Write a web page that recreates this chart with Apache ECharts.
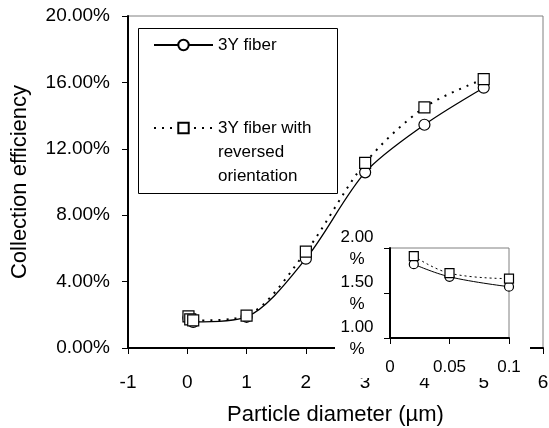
<!DOCTYPE html>
<html>
<head>
<meta charset="utf-8">
<script src="https://cdn.jsdelivr.net/npm/echarts@6/dist/echarts.min.js"></script>
<style>
  html, body { margin: 0; padding: 0; background: #fff; }
  #chart { width: 549px; height: 428px; }
</style>
</head>
<body>
<div id="chart"></div>
<script>
// Particle diameter (µm)
const diameters = [0.02, 0.05, 0.1, 1, 2, 3, 4, 5];
// Collection efficiency (%)
const fiber3Y = [1.82, 1.68, 1.57, 1.88, 5.38, 10.58, 13.45, 15.68];
const fiber3YReversed = [1.91, 1.72, 1.66, 1.95, 5.8, 11.15, 14.5, 16.2];
// The nanometre-range points shown enlarged in the inset
const insetCount = 3;

const nameFiber = '3Y fiber';
const nameReversed = '3Y fiber with\nreversed\norientation';

const FONT = 'Liberation Sans, Arial, sans-serif';

function pairs(xs, ys, n) {
  const out = [];
  const len = n == null ? xs.length : n;
  for (let i = 0; i < len; i++) out.push([xs[i], ys[i]]);
  return out;
}

const chart = echarts.init(document.getElementById('chart'), null, { renderer: 'canvas' });

const circleStyle = { color: '#fff', borderColor: '#000', borderWidth: 1.2 };
const squareStyle = { color: '#fff', borderColor: '#000', borderWidth: 1.2 };

const axisLineStyle = { show: true, onZero: false, lineStyle: { color: '#000', width: 2 } };
const axisTickStyle = { show: true, inside: false, length: 6, lineStyle: { color: '#000', width: 1 } };

chart.setOption({
  animation: false,
  backgroundColor: '#fff',
  textStyle: { fontFamily: FONT, color: '#000' },
  grid: [
    { left: 128, top: 16, right: 6, bottom: 80, outerBoundsMode: 'none', containLabel: false,
      show: true, borderColor: '#808080', borderWidth: 1, backgroundColor: 'transparent' },
    { left: 390, top: 248, width: 119, height: 90, outerBoundsMode: 'none', containLabel: false,
      show: true, borderColor: '#808080', borderWidth: 1, backgroundColor: '#fff', z: 8 }
  ],
  legend: [
    {
      data: [nameFiber],
      left: 153, top: 33, padding: 0,
      itemWidth: 59, itemHeight: 13,
      selectedMode: false,
      textStyle: { fontSize: 17, lineHeight: 24, color: '#000', fontFamily: FONT }
    },
    {
      data: [nameReversed],
      left: 153, top: 68, padding: 0,
      itemWidth: 59, itemHeight: 13,
      selectedMode: false,
      // two blank lines ahead of the name keep the key beside the first line of text
      formatter: name => '\n\n' + name,
      textStyle: { fontSize: 17, lineHeight: 24, color: '#000', fontFamily: FONT }
    }
  ],
  graphic: [
    // legend frame
    { type: 'rect', z: 4, shape: { x: 138.5, y: 28.5, width: 199, height: 165 },
      style: { fill: 'none', stroke: '#000', lineWidth: 1 } },
    // inset backdrop
    { type: 'rect', z: 5, shape: { x: 335, y: 225, width: 195, height: 153 },
      style: { fill: '#fff', stroke: 'none' } }
  ],
  xAxis: [
    {
      gridIndex: 0, type: 'value', min: -1, max: 6, interval: 1, z: 3,
      name: 'Particle diameter (µm)', nameLocation: 'middle', nameGap: 56,
      nameTextStyle: { fontSize: 22, color: '#000', fontFamily: FONT },
      axisLine: axisLineStyle,
      axisTick: axisTickStyle,
      axisLabel: { fontSize: 19, color: '#000', margin: 25, fontFamily: FONT },
      splitLine: { show: false }
    },
    {
      gridIndex: 1, type: 'value', min: 0, max: 0.1, interval: 0.05, z: 10,
      axisLine: axisLineStyle,
      axisTick: axisTickStyle,
      axisLabel: { fontSize: 17, color: '#000', margin: 21, fontFamily: FONT },
      splitLine: { show: false }
    }
  ],
  yAxis: [
    {
      gridIndex: 0, type: 'value', min: 0, max: 20, interval: 4, z: 3,
      name: 'Collection efficiency', nameLocation: 'middle', nameGap: 97,
      nameTextStyle: { fontSize: 22, color: '#000', fontFamily: FONT },
      axisLine: axisLineStyle,
      axisTick: axisTickStyle,
      axisLabel: { fontSize: 19, color: '#000', margin: 18, fontFamily: FONT,
        formatter: v => v.toFixed(2) + '%' },
      splitLine: { show: false }
    },
    {
      gridIndex: 1, type: 'value', min: 1, max: 2, interval: 0.5, z: 10,
      axisLine: axisLineStyle,
      axisTick: axisTickStyle,
      axisLabel: { fontSize: 17, lineHeight: 22, color: '#000', margin: 33, align: 'center', fontFamily: FONT,
        formatter: v => v.toFixed(2) + '\n%' },
      splitLine: { show: false }
    }
  ],
  series: [
    {
      name: nameFiber, type: 'line', xAxisIndex: 0, yAxisIndex: 0,
      data: pairs(diameters, fiber3Y),
      smooth: 0.3, symbol: 'circle', symbolSize: 11,
      lineStyle: { color: '#000', width: 1.3 },
      itemStyle: circleStyle, z: 2
    },
    {
      name: nameReversed, type: 'line', xAxisIndex: 0, yAxisIndex: 0,
      data: pairs(diameters, fiber3YReversed),
      smooth: 0.3, symbol: 'rect', symbolSize: 11,
      lineStyle: { color: '#000', width: 2, type: [2, 6] },
      itemStyle: squareStyle, z: 3
    },
    {
      name: 'inset ' + nameFiber, type: 'line', xAxisIndex: 1, yAxisIndex: 1,
      data: pairs(diameters, fiber3Y, insetCount),
      smooth: 0.4, symbol: 'circle', symbolSize: 9,
      lineStyle: { color: '#000', width: 1 },
      itemStyle: circleStyle, z: 12
    },
    {
      name: 'inset ' + nameReversed, type: 'line', xAxisIndex: 1, yAxisIndex: 1,
      data: pairs(diameters, fiber3YReversed, insetCount),
      smooth: 0.4, symbol: 'rect', symbolSize: 9,
      lineStyle: { color: '#000', width: 1, type: [2, 3] },
      itemStyle: squareStyle, z: 13
    }
  ]
});
</script>
</body>
</html>
